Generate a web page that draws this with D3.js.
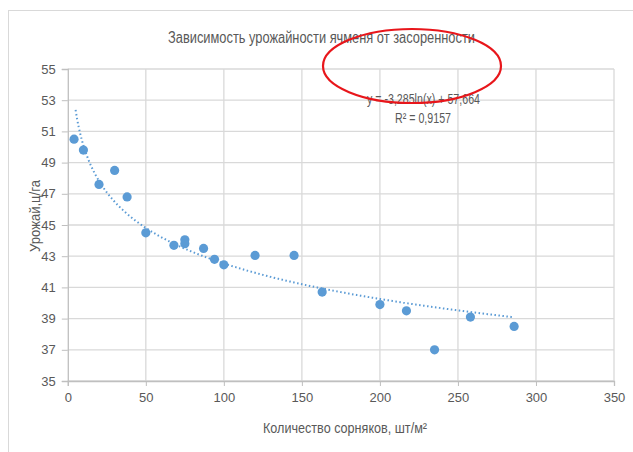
<!DOCTYPE html>
<html><head><meta charset="utf-8">
<script src="https://cdn.jsdelivr.net/npm/d3@7"></script>
<style>
html,body{margin:0;padding:0;background:#fff;}
text{font-family:"Liberation Sans Narrow","Liberation Sans",sans-serif;fill:#595959;}
</style></head>
<body>
<svg id="c" width="633" height="452"></svg>
<script>
const weeds = [4, 10, 20, 30, 38, 50, 68, 75, 75, 87, 94, 100, 120, 145, 163, 200, 217, 235, 258, 286];
const yields = [50.5, 49.8, 47.6, 48.5, 46.8, 44.5, 43.7, 44.05, 43.8, 43.5, 42.8, 42.45, 43.05, 43.05, 40.7, 39.9, 39.5, 37.0, 39.1, 38.5];
const xTicks = [0, 50, 100, 150, 200, 250, 300, 350];
const yTicks = [35, 37, 39, 41, 43, 45, 47, 49, 51, 53, 55];
const trendCoef = [-3.285, 57.664];
const trendRange = [5, 286];
const title = "Зависимость урожайности ячменя от засоренности";
const xTitle = "Количество сорняков, шт/м²";
const yTitle = "Урожай,ц/га";

const svg = d3.select("#c");
// outer chart border
svg.append("rect").attr("x",8.5).attr("y",10.5).attr("width",640).attr("height",460)
  .attr("fill","none").attr("stroke","#d9d9d9").attr("stroke-width",1);

const L=67.8, R=614, T=69, B=381;
const x = d3.scaleLinear().domain([0,350]).range([L,R]);
const y = d3.scaleLinear().domain([35,55]).range([B,T]);

const g = svg.append("g");
// grid
g.selectAll(".hg").data(yTicks).join("line")
  .attr("x1",L).attr("x2",R).attr("y1",d=>y(d)).attr("y2",d=>y(d))
  .attr("stroke","#d9d9d9").attr("stroke-width",1.3);
g.selectAll(".vg").data(xTicks.slice(1)).join("line")
  .attr("x1",d=>x(d)).attr("x2",d=>x(d)).attr("y1",T).attr("y2",B)
  .attr("stroke","#d9d9d9").attr("stroke-width",1.3);

// axes
const ya = svg.append("g").attr("transform",`translate(${L},0)`)
  .call(d3.axisLeft(y).tickValues(yTicks).tickSize(6).tickPadding(6));
ya.select(".domain").attr("stroke","#bfbfbf").attr("stroke-width",1.3);
ya.selectAll(".tick line").attr("stroke","#bfbfbf");
ya.selectAll("text").attr("font-size",13).style("fill","#595959");

const xa = svg.append("g").attr("transform",`translate(0,${B})`)
  .call(d3.axisBottom(x).tickValues(xTicks).tickSize(5).tickPadding(7));
xa.select(".domain").attr("stroke","#bfbfbf").attr("stroke-width",1.3);
xa.selectAll(".tick line").attr("stroke","#bfbfbf");
xa.selectAll("text").attr("font-size",13).style("fill","#595959");

// trendline
const tx = d3.range(trendRange[0], trendRange[1]+0.5, 1);
if (tx[tx.length-1] !== trendRange[1]) tx.push(trendRange[1]);
const line = d3.line().x(d=>x(d)).y(d=>y(trendCoef[0]*Math.log(d)+trendCoef[1])).curve(d3.curveMonotoneX);
svg.append("path").datum(tx).attr("d",line).attr("fill","none")
  .attr("stroke","#5b9bd5").attr("stroke-width",2).attr("stroke-dasharray","1.5,2.5");

// points
svg.selectAll(".pt").data(weeds.map((w,i)=>[w,yields[i]])).join("circle")
  .attr("cx",d=>x(d[0])).attr("cy",d=>y(d[1])).attr("r",4.6).attr("fill","#5b9bd5");

// title
svg.append("text").attr("x",168).attr("y",43)
  .attr("font-size",16).attr("textLength",307).attr("lengthAdjust","spacingAndGlyphs").text(title);

// equation
svg.append("text").attr("x",367).attr("y",104)
  .attr("font-size",14).attr("textLength",113).attr("lengthAdjust","spacingAndGlyphs").text("y = -3,285ln(x) + 57,664");
svg.append("text").attr("x",395).attr("y",123).attr("font-size",14)
  .attr("textLength",56).attr("lengthAdjust","spacingAndGlyphs").text("R² = 0,9157");

// axis titles
svg.append("text").attr("x",263).attr("y",433).attr("font-size",14)
  .attr("textLength",164).attr("lengthAdjust","spacingAndGlyphs").text(xTitle);
svg.append("text").attr("transform","translate(40,216) rotate(-90)")
  .attr("text-anchor","middle").attr("font-size",14)
  .attr("textLength",72).attr("lengthAdjust","spacingAndGlyphs").text(yTitle);

// red ellipse
svg.append("ellipse").attr("cx",412).attr("cy",66).attr("rx",89).attr("ry",37)
  .attr("fill","none").attr("stroke","#e8161b").attr("stroke-width",2.2);
</script>
</body></html>
